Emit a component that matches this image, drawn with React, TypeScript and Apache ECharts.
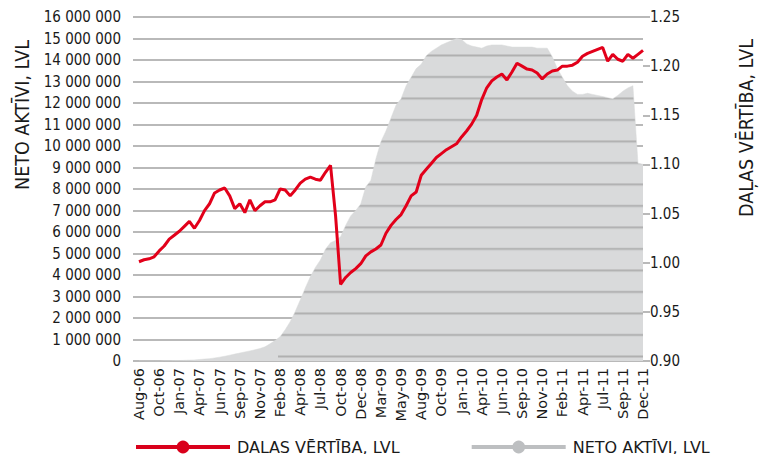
import React, { useEffect, useRef } from "react";
import * as echarts from "echarts";

const tickLabels = [
  "Aug-06", "Oct-06", "Jan-07", "Apr-07", "Jun-07", "Sep-07", "Nov-07", "Feb-08", "Apr-08", "Jul-08",
  "Oct-08", "Dec-08", "Mar-09", "May-09", "Aug-09", "Oct-09", "Jan-10", "Apr-10", "Jun-10", "Sep-10",
  "Nov-10", "Feb-11", "Apr-11", "Jul-11", "Sep-11", "Dec-11",
];

// DAĻAS VĒRTĪBA, LVL (right axis)
const unitValue = [
  1.001, 1.003, 1.004, 1.006, 1.012, 1.017, 1.024, 1.028, 1.032, 1.037,
  1.042, 1.035, 1.043, 1.053, 1.060, 1.071, 1.074, 1.076, 1.068, 1.055,
  1.060, 1.051, 1.064, 1.053, 1.058, 1.062, 1.062, 1.064, 1.075, 1.074,
  1.068, 1.074, 1.081, 1.085, 1.087, 1.085, 1.084, 1.092, 1.099, 1.048,
  0.978, 0.985, 0.990, 0.994, 0.999, 1.007, 1.011, 1.014, 1.018, 1.030,
  1.038, 1.044, 1.049, 1.058, 1.068, 1.072, 1.089, 1.095, 1.101, 1.107,
  1.111, 1.115, 1.118, 1.121, 1.128, 1.134, 1.141, 1.150, 1.166, 1.178,
  1.185, 1.189, 1.192, 1.186, 1.194, 1.203, 1.200, 1.197, 1.196, 1.193,
  1.187, 1.192, 1.195, 1.196, 1.200, 1.200, 1.201, 1.204, 1.210, 1.213,
  1.215, 1.217, 1.219, 1.205, 1.212, 1.207, 1.205, 1.212, 1.208, 1.212,
  1.216,
];

// NETO AKTĪVI, LVL (millions, left axis)
const netAssetsM = [
  0, 0, 0, 0, 0, 0.01, 0.01, 0.02, 0.02, 0.03,
  0.04, 0.05, 0.07, 0.09, 0.11, 0.14, 0.18, 0.22, 0.27, 0.32,
  0.37, 0.42, 0.47, 0.52, 0.58, 0.66, 0.8, 0.95, 1.13, 1.45,
  1.83, 2.3, 2.84, 3.4, 3.92, 4.35, 4.7, 5.2, 5.5, 5.6,
  5.78, 6.3, 6.75, 7.0, 7.3, 8.1, 8.4, 9.4, 10.2, 10.7,
  11.3, 11.9, 12.2, 12.8, 13.2, 13.6, 13.8, 14.2, 14.4, 14.55,
  14.7, 14.8, 14.9, 15.0, 14.95, 14.75, 14.65, 14.6, 14.55, 14.65,
  14.7, 14.7, 14.7, 14.65, 14.6, 14.6, 14.6, 14.6, 14.6, 14.55,
  14.55, 14.55, 14.15, 13.6, 13.2, 12.8, 12.55, 12.4, 12.4, 12.45,
  12.4, 12.35, 12.3, 12.25, 12.2, 12.35, 12.55, 12.7, 12.8, 9.2,
  9.15,
];

// left-axis tick values (millions) — grid lines that must show over the grey area
const leftTicksM = [0, 1, 2, 3, 4, 5, 6, 7, 8, 9, 10, 11, 12, 13, 14, 15, 16];

const seriesNames = ["DAĻAS VĒRTĪBA, LVL", "NETO AKTĪVI, LVL"];
const leftAxisTitle = "NETO AKTĪVI, LVL";
const rightAxisTitle = "DAĻAS VĒRTĪBA, LVL";

const FONT = "'DejaVu Sans Condensed', 'Liberation Sans Narrow', 'DejaVu Sans', sans-serif";
const FONT_WIDE = "'DejaVu Sans', sans-serif";
const TXT = "#1a1a1a";
const GRID = "#a2a2a2";
const AREA = "#d9dadb";

const W = 768;
const H = 462;

export default function App() {
  const ref = useRef<HTMLDivElement>(null);
  useEffect(() => {
    if (!ref.current) return;
    const chart = echarts.init(ref.current, undefined, { renderer: "svg" });
    const categories = unitValue.map((_, i) =>
      i % 4 === 0 ? tickLabels[i / 4] : `${tickLabels[Math.floor(i / 4)]}+${i % 4}`
    );
    const netAssets = netAssetsM.map((v) => Math.round(v * 1e6));
    chart.setOption({
      animation: false,
      textStyle: { fontFamily: FONT },
      grid: { left: 139, right: 125, top: 17, bottom: 101 },
      legend: {
        left: 129,
        top: 434,
        itemWidth: 94,
        itemHeight: 16,
        itemGap: 70,
        textStyle: { fontFamily: FONT_WIDE, fontSize: 16, color: TXT, padding: [0, 0, 0, 2] },
        data: [
          { name: seriesNames[0], itemStyle: { color: "#d9001b" }, lineStyle: { color: "#d9001b", width: 4, opacity: 1 } },
          { name: seriesNames[1], itemStyle: { color: "#bdbfc1" }, lineStyle: { color: "#bdbfc1", width: 4, opacity: 1 } },
        ],
      },
      xAxis: {
        type: "category",
        data: categories,
        boundaryGap: false,
        axisLine: { show: false },
        axisTick: { show: false },
        axisLabel: {
          rotate: 90,
          margin: 7,
          fontSize: 14.5,
          color: TXT,
          fontFamily: FONT_WIDE,
          interval: (idx: number) => idx % 4 === 0,
          formatter: (v: string) => (v.includes("+") ? "" : v),
        },
        splitLine: { show: false },
      },
      yAxis: [
        {
          type: "value",
          min: 0,
          max: 16000000,
          interval: 1000000,
          axisLine: { show: false },
          axisTick: { show: true, length: 6, lineStyle: { color: GRID, width: 1.5 } },
          axisLabel: {
            margin: 18,
            fontSize: 15,
            color: TXT,
            fontFamily: FONT,
            formatter: (v: number) => String(v).replace(/\B(?=(\d{3})+(?!\d))/g, " "),
          },
          splitLine: { show: true, lineStyle: { color: GRID, width: 1.5 } },
        },
        {
          type: "value",
          min: 0.9,
          max: 1.25,
          interval: 0.05,
          position: "right",
          axisLine: { show: false },
          axisTick: { show: true, length: 7, lineStyle: { color: GRID, width: 1.5 } },
          axisLabel: {
            margin: 7,
            fontSize: 15,
            color: TXT,
            fontFamily: FONT,
            formatter: (v: number) => v.toFixed(2),
          },
          splitLine: { show: false },
        },
      ],
      graphic: [
        {
          type: "text",
          x: 22,
          y: 115,
          rotation: Math.PI / 2,
          style: { text: leftAxisTitle, fontSize: 19.5, fontFamily: FONT, fill: TXT, align: "center", verticalAlign: "middle" },
        },
        {
          type: "text",
          x: 746,
          y: 128,
          rotation: Math.PI / 2,
          style: { text: rightAxisTitle, fontSize: 19.5, fontFamily: FONT, fill: TXT, align: "center", verticalAlign: "middle" },
        },
      ],
      series: [
        {
          id: "area",
          name: seriesNames[1],
          type: "line",
          yAxisIndex: 0,
          data: netAssets,
          z: 2,
          symbol: "circle",
          showSymbol: false,
          symbolSize: 14,
          lineStyle: { width: 0.5, color: AREA },
          itemStyle: { color: "#bdbfc1" },
          areaStyle: { color: AREA, opacity: 1 },
        },
        {
          id: "unit",
          name: seriesNames[0],
          type: "line",
          yAxisIndex: 1,
          data: unitValue,
          z: 5,
          symbol: "circle",
          showSymbol: false,
          symbolSize: 14,
          lineStyle: { width: 3, color: "#e2001a" },
          itemStyle: { color: "#d9001b" },
        },
      ],
    });

    // Fill the grey area with a pattern that carries the grid lines, so they stay
    // visible on top of the area (positions come from the axis scale).
    try {
      const canvas = document.createElement("canvas");
      canvas.width = W;
      canvas.height = H;
      const ctx = canvas.getContext("2d");
      if (ctx) {
        ctx.fillStyle = AREA;
        ctx.fillRect(0, 0, W, H);
        const x0 = chart.convertToPixel({ xAxisIndex: 0 }, categories[0]) as number;
        const x1 = chart.convertToPixel({ xAxisIndex: 0 }, categories[categories.length - 1]) as number;
        ctx.strokeStyle = GRID;
        ctx.lineWidth = 1.5;
        leftTicksM.forEach((t) => {
          const y = chart.convertToPixel({ yAxisIndex: 0 }, t * 1e6) as number;
          ctx.beginPath();
          ctx.moveTo(x0, y);
          ctx.lineTo(x1, y);
          ctx.stroke();
        });
        chart.setOption({
          series: [
            { id: "area", areaStyle: { color: { image: canvas, repeat: "no-repeat" }, opacity: 1 } },
          ],
        });
      }
    } catch (e) {
      // keep the plain area if the pattern cannot be made
    }
    return () => chart.dispose();
  }, []);
  return <div ref={ref} style={{ width: W, height: H, margin: -8 }} />;
}
